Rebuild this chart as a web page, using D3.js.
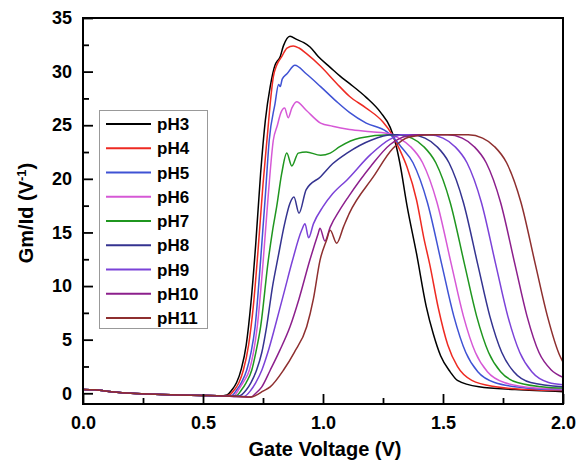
<!DOCTYPE html>
<html><head><meta charset="utf-8">
<script src="https://cdnjs.cloudflare.com/ajax/libs/d3/7.8.5/d3.min.js"></script>
<style>
html,body{margin:0;padding:0;background:#fff;}
text{font-family:"Liberation Sans",Arial,sans-serif;font-weight:bold;fill:#000;}
</style></head>
<body><svg id="c" width="581" height="466"></svg>
<script>
// ---- data ----
const seriesNames = ["pH3","pH4","pH5","pH6","pH7","pH8","pH9","pH10","pH11"];
const seriesColors = ["#000000","#ee2a22","#3f52d4","#d658d6","#1f961f","#343390","#7b42d8","#8c1f8c","#8e2f2f"];
const baselineV = [0, 0.05, 0.12, 0.2, 0.3, 0.4, 0.5, 0.56];
const baselineG = [0.35, 0.32, 0.15, 0.0, -0.1, -0.15, -0.2, -0.23];
const pH3 = [[0.57,-0.25],[0.60,-0.15],[0.62,0.3],[0.64,1.0],[0.66,2.3],[0.68,4.5],[0.70,8.5],[0.72,14.0],[0.74,20.5],[0.76,25.5],[0.78,28.6],[0.80,30.6],[0.81,31.0],[0.82,31.3],[0.835,32.4],[0.8625,33.3],[0.89,33.0],[0.92,32.7],[0.946,32.3],[0.98,31.4],[1.03,30.4],[1.07,29.6],[1.11,28.9],[1.18,27.6],[1.24,26.2],[1.28,24.8],[1.30,23.5],[1.32,21.5],[1.35,17.5],[1.39,13.0],[1.43,8.1],[1.46,5.5],[1.49,3.5],[1.53,2.0],[1.56,1.2],[1.65,0.6],[1.8,0.35],[2.0,0.15]];
const pH4 = [[0.58,-0.25],[0.61,-0.15],[0.63,0.3],[0.65,1.0],[0.668,2.15],[0.69,4.5],[0.71,8.2],[0.73,13.5],[0.75,19.5],[0.77,24.5],[0.78,27.0],[0.793,29.5],[0.807,30.6],[0.828,31.4],[0.85,32.2],[0.876,32.4],[0.90,32.2],[0.93,31.7],[0.99,30.5],[1.057,28.9],[1.11,27.7],[1.18,26.6],[1.25,25.3],[1.286,24.2],[1.32,22.7],[1.35,21.1],[1.39,18.0],[1.42,14.5],[1.445,12.0],[1.48,8.0],[1.52,4.5],[1.56,2.5],[1.62,1.2],[1.72,0.6],[1.85,0.35],[2.0,0.25]];
const pH5 = [[0.59,-0.25],[0.62,-0.2],[0.64,0.3],[0.66,1.0],[0.682,2.15],[0.70,3.8],[0.717,6.2],[0.74,12.4],[0.76,18.5],[0.776,23.6],[0.80,27.0],[0.815,28.8],[0.822,28.6],[0.83,29.3],[0.85,29.8],[0.883,30.6],[0.93,29.8],[0.99,28.6],[1.057,27.2],[1.11,26.2],[1.18,25.2],[1.265,24.4],[1.30,23.7],[1.325,23.0],[1.375,21.5],[1.435,17.8],[1.495,12.0],[1.545,7.2],[1.595,3.8],[1.645,2.0],[1.715,1.0],[1.845,0.5],[2.0,0.32]];
const pH6 = [[0.60,-0.25],[0.63,-0.2],[0.65,0.4],[0.67,1.1],[0.693,2.15],[0.71,3.8],[0.726,6.2],[0.751,12.4],[0.772,18.5],[0.793,23.6],[0.81,25.0],[0.825,26.2],[0.84,26.6],[0.855,25.7],[0.87,26.6],[0.89,27.2],[0.93,26.4],[0.99,25.2],[1.04,24.9],[1.11,24.6],[1.20,24.4],[1.28,24.2],[1.315,23.8],[1.365,23.0],[1.415,21.5],[1.475,17.8],[1.535,12.0],[1.585,7.2],[1.635,3.8],[1.685,2.0],[1.755,1.0],[1.885,0.5],[2.0,0.4]];
const pH7 = [[0.61,-0.25],[0.64,-0.2],[0.66,0.3],[0.68,1.0],[0.703,2.15],[0.72,3.8],[0.74,6.2],[0.772,12.4],[0.79,15.2],[0.807,17.4],[0.828,20.5],[0.849,22.4],[0.87,21.2],[0.897,22.4],[0.93,22.5],[0.99,22.2],[1.03,22.4],[1.07,23.0],[1.154,23.8],[1.28,24.1],[1.31,24.1],[1.37,23.8],[1.42,23.0],[1.47,21.5],[1.53,17.8],[1.59,12.0],[1.64,7.2],[1.69,3.8],[1.74,2.0],[1.81,1.0],[1.94,0.55],[2.0,0.5]];
const pH8 = [[0.62,-0.25],[0.65,-0.25],[0.68,0.3],[0.70,1.0],[0.723,2.15],[0.745,3.8],[0.765,6.2],[0.79,10.0],[0.812,12.6],[0.84,15.8],[0.862,17.7],[0.879,18.3],[0.90,16.8],[0.93,19.0],[0.99,20.2],[1.04,21.4],[1.10,22.4],[1.20,23.6],[1.29,24.1],[1.365,24.1],[1.425,23.8],[1.475,23.0],[1.525,21.5],[1.585,17.8],[1.645,12.0],[1.695,7.2],[1.745,3.8],[1.795,2.0],[1.865,1.0],[2.0,0.6]];
const pH9 = [[0.63,-0.3],[0.67,-0.3],[0.70,0.3],[0.72,1.0],[0.745,2.15],[0.77,3.8],[0.80,6.2],[0.84,9.6],[0.873,12.4],[0.911,15.2],[0.925,15.8],[0.94,14.5],[0.96,15.8],[1.0,17.4],[1.04,18.6],[1.10,19.9],[1.20,22.3],[1.28,23.7],[1.33,24.1],[1.44,24.1],[1.50,23.8],[1.55,23.0],[1.60,21.5],[1.66,17.8],[1.72,12.0],[1.77,7.2],[1.82,3.8],[1.87,2.0],[1.94,1.0],[2.0,0.8]];
const pH10 = [[0.64,-0.3],[0.70,-0.35],[0.72,0.0],[0.745,0.6],[0.78,2.15],[0.82,4.0],[0.8625,6.2],[0.90,8.8],[0.945,12.4],[0.98,14.9],[0.9875,15.4],[1.008,14.2],[1.03,15.5],[1.07,17.1],[1.105,18.3],[1.20,21.2],[1.28,23.2],[1.35,24.0],[1.40,24.1],[1.52,24.1],[1.58,23.8],[1.63,23.0],[1.68,21.5],[1.74,17.8],[1.80,12.0],[1.85,7.2],[1.90,3.8],[1.95,2.2],[2.0,1.5]];
const pH11 = [[0.65,-0.3],[0.70,-0.35],[0.72,-0.2],[0.75,0.2],[0.78,0.6],[0.835,2.15],[0.88,3.8],[0.932,6.2],[0.96,8.8],[0.9875,12.4],[1.015,14.3],[1.03,15.2],[1.057,14.0],[1.085,15.5],[1.11,16.8],[1.21,20.2],[1.29,22.8],[1.36,23.9],[1.45,24.1],[1.605,24.1],[1.665,23.8],[1.715,23.0],[1.765,21.5],[1.825,17.8],[1.885,12.0],[1.935,7.2],[1.985,3.6],[2.0,2.9]];
const xMajorTicks = [0, 0.5, 1.0, 1.5, 2.0];
const xMinorTicks = [0.25, 0.75, 1.25, 1.75];
const yMajorTicks = [0, 5, 10, 15, 20, 25, 30, 35];
const yMinorTicks = [2.5, 7.5, 12.5, 17.5, 22.5, 27.5, 32.5];
const xTitle = "Gate Voltage (V)";

// ---- drawing ----
const seriesData = [pH3,pH4,pH5,pH6,pH7,pH8,pH9,pH10,pH11];
const baseline = baselineV.map((v,i)=>[v, baselineG[i]]);
const svg = d3.select("#c");
const L=83, R=563, T=18, B=404;
const x = d3.scaleLinear().domain([0,2]).range([L,R]);
const y = d3.scaleLinear().domain([-1,35]).range([B,T]);

const line = d3.line().x(d=>x(d[0])).y(d=>y(d[1])).curve(d3.curveMonotoneX);
svg.append("clipPath").attr("id","clp").append("rect")
  .attr("x",L).attr("y",T).attr("width",R-L).attr("height",B-T);
const g = svg.append("g").attr("clip-path","url(#clp)");
seriesData.forEach((s,i)=>{
  g.append("path").attr("d", line(baseline.concat(s)))
    .attr("fill","none").attr("stroke",seriesColors[i]).attr("stroke-width",1.5);
});

// axes
const xAx = svg.append("g").attr("transform",`translate(0,${B})`)
  .call(d3.axisBottom(x).tickValues(xMajorTicks).tickFormat(d3.format(".1f")).tickSize(-10).tickPadding(12));
const xAxMin = svg.append("g").attr("transform",`translate(0,${B})`)
  .call(d3.axisBottom(x).tickValues(xMinorTicks).tickFormat("").tickSize(-6));
const yAx = svg.append("g").attr("transform",`translate(${L},0)`)
  .call(d3.axisLeft(y).tickValues(yMajorTicks).tickFormat(d3.format("d")).tickSize(-10).tickPadding(11));
const yAxMin = svg.append("g").attr("transform",`translate(${L},0)`)
  .call(d3.axisLeft(y).tickValues(yMinorTicks).tickFormat("").tickSize(-6));
[xAx,xAxMin,yAx,yAxMin].forEach(a=>{
  a.select(".domain").remove();
  a.selectAll(".tick line").attr("stroke","#000").attr("stroke-width",1.8);
  a.selectAll("text").style("font-size","18px").style("font-weight","bold")
   .attr("fill","#000").style("font-family","'Liberation Sans',Arial,sans-serif");
});
svg.append("rect").attr("x",L).attr("y",T).attr("width",R-L).attr("height",B-T)
  .attr("fill","none").attr("stroke","#000").attr("stroke-width",2);

// titles
svg.append("text").attr("x",(L+R)/2+2).attr("y",456).attr("text-anchor","middle")
  .style("font-size","20px").text(xTitle);
const yt = svg.append("text").attr("transform",`translate(33,${(T+B)/2+2}) rotate(-90)`)
  .attr("text-anchor","middle").style("font-size","20px");
yt.append("tspan").text("Gm/Id (V");
yt.append("tspan").attr("dy",-7).style("font-size","13px").text("-1");
yt.append("tspan").attr("dy",7).text(")");

// legend
const lg = svg.append("g");
lg.append("rect").attr("x",99.5).attr("y",110.5).attr("width",108).attr("height",218)
  .attr("fill","#fff").attr("stroke","#999").attr("stroke-width",1);
seriesNames.forEach((n,i)=>{
  const yy = 124 + i*24.25;
  lg.append("line").attr("x1",106).attr("x2",151).attr("y1",yy).attr("y2",yy)
    .attr("stroke",seriesColors[i]).attr("stroke-width",1.8);
  lg.append("text").attr("x",157).attr("y",yy+6).style("font-size","17px").text(n);
});
</script></body></html>
